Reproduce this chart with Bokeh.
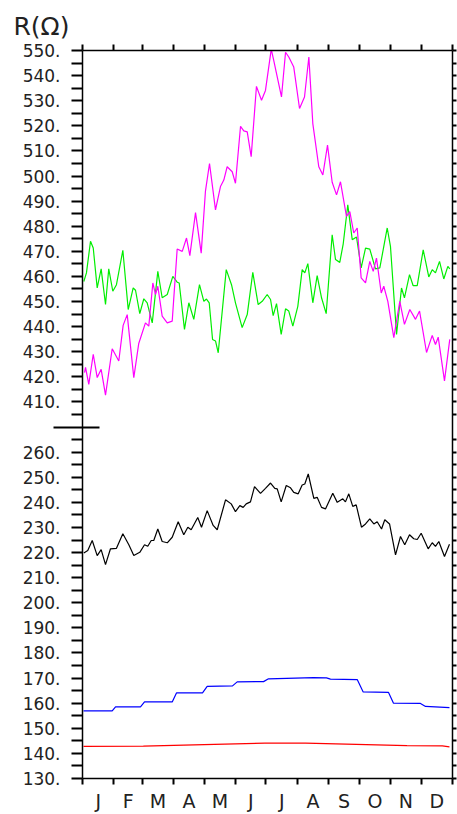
import numpy as np
from bokeh.plotting import figure
from bokeh.models import Range1d, LinearAxis, FixedTicker, Title
from bokeh.embed import file_html
from bokeh.resources import INLINE

# ---------------- data ----------------
y_title = "R(Ω)"
months = ["J", "F", "M", "A", "M", "J", "J", "A", "S", "O", "N", "D"]
month_edges = [0, 31, 59, 90, 120, 151, 181, 212, 243, 273, 304, 334, 365]

lower_ticks = list(range(130, 261, 10))
lower_minor = list(range(135, 266, 10))
upper_ticks = list(range(410, 551, 10))
upper_minor = list(range(405, 546, 10))
lower_top = 270      # top of lower segment of the broken axis
upper_bottom = 400   # bottom of upper segment of the broken axis
upper_top = 550

magenta_day = [2.0, 3.0, 6.2, 10.6, 14.5, 18.4, 22.7, 29.3, 35.8, 40.1, 44.1, 50.6, 55.5, 62.1,
               65.4, 69.4, 72.0, 74.3, 78.6, 83.6, 88.5, 93.4, 98.4, 102.6, 105.9, 111.5, 117.1,
               121.3, 125.3, 131.2, 136.1, 139.4, 142.7, 147.7, 150.9, 155.9, 159.1, 162.5, 166.4,
               171.6, 176.6, 180.5, 186.2, 188.7, 191.1, 196.3, 200.3, 203.5, 208.4, 214.1, 219.0,
               223.3, 227.2, 233.1, 237.1, 241.7, 246.3, 250.6, 254.5, 260.4, 263.7, 267.6, 271.0,
               274.9, 279.2, 283.4, 286.8, 290.0, 294.7, 297.2, 301.2, 307.1, 313.0, 317.6, 322.9,
               328.5, 332.5, 339.4, 345.0, 348.2, 350.9, 357.1, 362.3]
magenta_val = [421.7, 423.8, 417.0, 429.0, 419.7, 423.0, 412.7, 431.2, 426.3, 440.5, 444.8, 419.7,
               433.3, 441.5, 440.2, 457.4, 452.8, 456.1, 444.2, 441.5, 442.2, 470.9, 470.0, 475.3,
               468.3, 485.4, 469.3, 494.0, 505.0, 486.5, 495.8, 498.4, 503.7, 501.7, 497.1, 519.8,
               518.0, 517.6, 507.7, 535.7, 530.2, 534.1, 550.5, 546.0, 541.4, 531.5, 549.3, 547.4,
               543.4, 526.9, 531.5, 547.4, 520.9, 503.7, 500.4, 512.3, 497.5, 492.5, 497.7, 483.9,
               485.8, 477.3, 479.3, 459.4, 457.4, 466.0, 462.0, 467.3, 453.4, 456.1, 450.1, 435.6,
               450.1, 440.9, 446.8, 442.9, 446.2, 429.7, 436.5, 432.9, 435.8, 418.4, 434.9]

green_day = [1.3, 3.9, 7.9, 10.6, 14.5, 18.4, 22.7, 25.9, 29.9, 33.5, 39.8, 45.1, 50.0, 52.3, 56.5,
             60.5, 63.8, 68.8, 74.3, 78.6, 83.6, 89.1, 93.4, 95.4, 100.6, 104.9, 109.8, 115.4,
             119.7, 122.3, 125.0, 128.3, 131.2, 133.9, 141.8, 147.0, 150.9, 157.5, 162.5, 168.0,
             173.3, 177.3, 182.2, 185.5, 188.1, 191.4, 196.0, 200.3, 203.5, 207.5, 212.4, 216.7,
             219.3, 222.3, 227.2, 231.5, 235.8, 240.4, 246.3, 249.6, 253.8, 257.2, 261.7, 266.1,
             270.3, 274.9, 279.2, 283.4, 289.0, 293.3, 300.6, 303.8, 309.8, 314.7, 317.6, 322.6,
             326.2, 330.2, 336.1, 341.6, 345.0, 348.2, 352.2, 356.4, 360.4, 362.3]
green_val = [458.0, 461.4, 474.0, 471.3, 455.4, 463.0, 448.8, 463.0, 454.1, 456.7, 470.4, 446.8,
             455.4, 454.5, 445.2, 451.1, 449.5, 441.5, 462.0, 451.5, 452.8, 460.0, 457.7, 457.4,
             438.9, 449.5, 442.9, 456.7, 450.1, 451.0, 449.5, 434.9, 434.3, 429.6, 462.7, 456.7,
             449.5, 439.6, 444.8, 461.6, 448.8, 450.1, 452.8, 450.8, 444.4, 449.2, 436.9, 447.1,
             446.2, 440.2, 448.1, 462.7, 461.4, 465.1, 449.5, 460.3, 451.5, 445.2, 476.6, 466.7,
             465.6, 473.0, 488.5, 474.6, 475.7, 463.4, 471.3, 470.9, 463.0, 463.4, 479.3, 472.0,
             436.9, 455.4, 451.5, 460.7, 456.3, 456.3, 470.6, 459.8, 462.7, 461.4, 466.0, 459.0,
             464.0, 463.0]

black_day = [1.3, 5.2, 9.6, 14.5, 18.4, 22.7, 27.6, 33.5, 39.8, 45.7, 50.6, 56.5, 61.2, 64.4, 67.8,
             70.3, 74.3, 78.6, 83.6, 88.5, 94.4, 99.9, 103.9, 107.2, 113.7, 117.4, 123.0, 128.9,
             132.9, 141.1, 146.7, 150.9, 155.2, 158.5, 161.5, 165.7, 169.7, 175.6, 180.5, 185.5,
             189.7, 192.1, 196.0, 201.0, 205.2, 208.4, 212.8, 216.7, 219.3, 222.7, 228.2, 231.5,
             235.8, 239.7, 246.9, 251.3, 256.8, 259.4, 262.7, 266.6, 270.0, 275.2, 279.2, 283.4,
             287.4, 290.7, 295.0, 298.2, 302.9, 308.8, 313.7, 317.9, 322.6, 326.8, 330.2, 334.1,
             341.0, 345.0, 348.2, 351.5, 357.1, 362.0]
black_val = [219.8, 220.8, 224.8, 218.8, 221.2, 215.2, 221.5, 221.7, 227.5, 223.1, 218.8, 220.1,
             223.1, 222.5, 224.8, 224.8, 229.4, 224.4, 223.9, 226.1, 232.3, 227.1, 230.1, 229.1,
             234.0, 230.1, 236.7, 230.8, 229.1, 241.0, 239.4, 236.3, 238.7, 238.0, 239.4, 240.2,
             246.3, 243.6, 245.6, 247.7, 245.6, 245.4, 240.2, 246.7, 245.8, 244.0, 243.4, 246.9,
             247.3, 251.3, 241.6, 242.0, 238.0, 237.4, 243.6, 240.0, 241.4, 240.2, 243.4, 238.4,
             239.0, 230.1, 231.4, 233.4, 231.4, 232.3, 229.4, 233.1, 231.4, 219.1, 226.4, 223.1,
             227.1, 225.5, 225.2, 227.7, 221.5, 223.9, 222.5, 224.4, 218.4, 223.3]

blue_day = [1.0, 29.3, 32.6, 57.2, 61.2, 88.5, 92.7, 118.4, 123.0, 148.0, 152.6, 178.6, 183.5,
            227.9, 240.7, 244.6, 271.0, 276.9, 301.9, 306.8, 333.4, 338.4, 362.0]
blue_val = [156.9, 156.9, 158.5, 158.5, 160.5, 160.5, 164.1, 164.1, 166.7, 166.9, 168.5, 168.6,
            169.7, 170.2, 170.1, 169.6, 169.4, 164.5, 164.3, 160.0, 159.9, 158.7, 158.2]

red_day = [1.0, 60.0, 120.0, 180.0, 220.0, 270.0, 320.0, 355.0, 362.0]
red_val = [142.8, 142.9, 143.5, 144.1, 144.1, 143.6, 143.1, 143.0, 142.6]

# ---------------- broken-axis transform ----------------
gap = upper_bottom - lower_top


def to_axis(v):
    v = np.asarray(v, dtype=float)
    return np.where(v >= upper_bottom, v - gap, v)


FONT = "DejaVu Sans"
W, H = 457, 814
ML, MR, MT, MB = 82, 5, 50, 34

p = figure(width=W, height=H, output_backend="svg", toolbar_location=None,
           x_range=Range1d(month_edges[0], month_edges[-1]),
           y_range=Range1d(lower_ticks[0], upper_top - gap),
           x_axis_location=None, y_axis_location=None,
           min_border_left=ML, min_border_right=MR, min_border_top=MT, min_border_bottom=MB)
p.xgrid.visible = False
p.ygrid.visible = False
p.outline_line_color = None
p.background_fill_color = "white"
p.border_fill_color = "white"

major_t = [float(t) for t in lower_ticks] + [float(t) for t in to_axis(upper_ticks)]
minor_t = [float(t) for t in lower_minor] + [float(t) for t in to_axis(upper_minor)]
labels = {float(t): f"{v}." for t, v in zip(major_t, lower_ticks + upper_ticks)}

NOLAB = dict(major_label_standoff=0, major_label_text_font_size="0px",
             major_label_text_color=None, major_label_text_alpha=0)

# inner left axis: frame line, all small ticks (as minors) and the long axis-break mark (as major)
left_ticks = LinearAxis(ticker=FixedTicker(ticks=[float(lower_top)], minor_ticks=major_t + minor_t),
                        major_label_overrides={float(lower_top): ""},
                        major_tick_out=29, major_tick_in=17, minor_tick_out=11, minor_tick_in=0,
                        major_tick_line_width=2, minor_tick_line_width=2, axis_line_width=1.5,
                        **NOLAB)
p.add_layout(left_ticks, "left")

# outer left axis: only the value labels
left_labels = LinearAxis(ticker=FixedTicker(ticks=major_t, minor_ticks=[]),
                         major_label_overrides=labels, axis_line_color=None,
                         major_tick_out=0, major_tick_in=0, minor_tick_out=0, minor_tick_in=0,
                         major_tick_line_color=None, minor_tick_line_color=None,
                         major_label_standoff=-7, major_label_text_font=FONT,
                         major_label_text_font_size="17px", major_label_text_color="#222222")
p.add_layout(left_labels, "left")

right = LinearAxis(ticker=FixedTicker(ticks=major_t, minor_ticks=minor_t),
                   major_tick_out=4, major_tick_in=0, minor_tick_out=4, minor_tick_in=0,
                   major_tick_line_width=2, minor_tick_line_width=2, axis_line_width=1.5,
                   **NOLAB)
p.add_layout(right, "right")

mids = [(a + b) / 2 for a, b in zip(month_edges[:-1], month_edges[1:])]
bottom = LinearAxis(ticker=FixedTicker(ticks=mids, minor_ticks=month_edges),
                    major_label_overrides={float(m): n for m, n in zip(mids, months)},
                    major_tick_out=0, major_tick_in=0, minor_tick_out=6, minor_tick_in=0,
                    minor_tick_line_width=2, axis_line_width=1.5,
                    major_label_standoff=5, major_label_text_font=FONT,
                    major_label_text_font_size="19px", major_label_text_color="#222222")
p.add_layout(bottom, "below")

top = LinearAxis(ticker=FixedTicker(ticks=month_edges),
                 major_tick_out=6, major_tick_in=0, minor_tick_out=0, minor_tick_in=0,
                 major_tick_line_width=2, axis_line_width=1.5,
                 **NOLAB)
p.add_layout(top, "above")

# y title
p.add_layout(Title(text=y_title, align="left", offset=-69, standoff=8,
                   text_font=FONT, text_font_size="25px", text_font_style="normal",
                   text_color="#222222"), "above")

# series
series = [
    (red_day, red_val, "#FF0000"),
    (blue_day, blue_val, "#0000FF"),
    (black_day, black_val, "#000000"),
    (green_day, green_val, "#00EE00"),
    (magenta_day, magenta_val, "#FF00FF"),
]
for d, v, c in series:
    p.line(d, to_axis(v), line_color=c, line_width=1.2)

open("out.html", "w").write(file_html(p, INLINE))
